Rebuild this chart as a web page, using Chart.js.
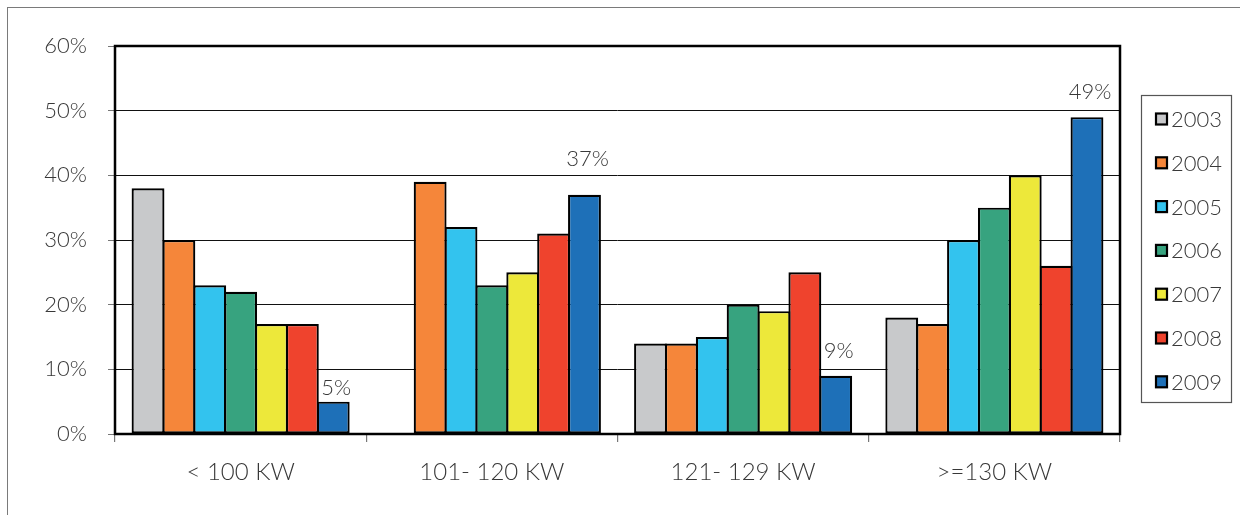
<!DOCTYPE html>
<html>
<head>
<meta charset="utf-8">
<script src="https://cdn.jsdelivr.net/npm/chart.js@4/dist/chart.umd.min.js"></script>
<style>
  html, body { margin: 0; padding: 0; background: #fff; overflow: hidden; }
  #wrap { position: relative; width: 1240px; height: 515px; }
  #frame { position: absolute; left: 7px; top: 7px; width: 1300px; height: 600px;
           border-left: 1.5px solid #7a7a7a; border-top: 1.5px solid #7a7a7a; }
  canvas { position: absolute; left: 0; top: 0; }
</style>
</head>
<body>
<div id="wrap">
  <div id="frame"></div>
  <canvas id="c" width="1240" height="515"></canvas>
</div>
<script>
// Power classes and yearly shares (%)
const categories = ['< 100 KW', '101- 120 KW', '121- 129 KW', '>=130 KW'];
const years = ['2003', '2004', '2005', '2006', '2007', '2008', '2009'];
const share2003 = [38, null, 14, 18];
const share2004 = [30, 39, 14, 17];
const share2005 = [23, 32, 15, 30];
const share2006 = [22, 23, 20, 35];
const share2007 = [17, 25, 19, 40];
const share2008 = [17, 31, 25, 26];
const share2009 = [5, 37, 9, 49];
const yTicks = [0, 10, 20, 30, 40, 50, 60];

const seriesValues = [share2003, share2004, share2005, share2006, share2007, share2008, share2009];
const seriesColors = ['#c8c9cb', '#f5863a', '#33c3ee', '#37a37f', '#ede83a', '#ef432d', '#1e70b8'];
const labelledSeries = 6; // only the latest year carries value labels

const FONT = '"Lato", "Noto Sans", sans-serif';
const TEXT = '#383838';

// Frame around the plotting area
const plotFrame = {
  id: 'plotFrame',
  afterDatasetsDraw(chart) {
    const { ctx, chartArea: a } = chart;
    ctx.save();
    ctx.strokeStyle = '#000';
    ctx.lineWidth = 2.5;
    ctx.strokeRect(a.left, a.top, a.right - a.left, a.bottom - a.top);
    ctx.restore();
  }
};

// Value labels above the 2009 bars, nudged so they never sit on a gridline
const valueLabels = {
  id: 'valueLabels',
  afterDatasetsDraw(chart) {
    const { ctx } = chart;
    const yScale = chart.scales.y;
    const lines = yTicks.map(v => yScale.getPixelForValue(v));
    const meta = chart.getDatasetMeta(labelledSeries);
    const vals = chart.data.datasets[labelledSeries].data;
    ctx.save();
    ctx.font = '300 22px ' + FONT;
    ctx.fillStyle = TEXT;
    ctx.textAlign = 'center';
    ctx.textBaseline = 'middle';
    meta.data.forEach((bar, i) => {
      if (vals[i] == null) return;
      let cy = bar.y - 25;
      const hit = lines.find(g => Math.abs(g - cy) < 10);
      if (hit !== undefined) {
        const gap = bar.y - hit;
        cy = gap >= 28 ? (bar.y + hit) / 2 + 2 : hit - 16;
      }
      ctx.fillText(vals[i] + '%', bar.x + 3, cy);
    });
    ctx.restore();
  }
};

// Boxed legend to the right of the plot
const boxLegend = {
  id: 'boxLegend',
  afterDraw(chart) {
    const { ctx } = chart;
    const left = 1141.5, top = 95.5, w = 90, h = 307;
    const firstY = 119, step = 43.8;
    ctx.save();
    ctx.strokeStyle = '#555';
    ctx.lineWidth = 1.2;
    ctx.strokeRect(left, top, w, h);
    ctx.font = '300 22px ' + FONT;
    ctx.textBaseline = 'middle';
    ctx.textAlign = 'left';
    chart.data.datasets.forEach((ds, i) => {
      const y = firstY + i * step;
      ctx.fillStyle = ds.backgroundColor;
      ctx.fillRect(1156, y - 5.5, 11, 11);
      ctx.strokeStyle = '#000';
      ctx.lineWidth = 2.2;
      ctx.strokeRect(1156, y - 5.5, 11, 11);
      ctx.fillStyle = TEXT;
      ctx.fillText(ds.label, 1171, y + 1);
    });
    ctx.restore();
  }
};

new Chart(document.getElementById('c'), {
  type: 'bar',
  data: {
    labels: categories,
    datasets: years.map((y, i) => ({
      label: y,
      data: seriesValues[i],
      backgroundColor: seriesColors[i],
      borderColor: '#000',
      borderWidth: 2.2,
      borderSkipped: false,
      categoryPercentage: 0.86,
      barPercentage: 1.065
    }))
  },
  options: {
    responsive: false,
    animation: false,
    layout: { padding: { top: 46, right: 120, left: 0, bottom: 0 } },
    plugins: {
      legend: { display: false },
      tooltip: { enabled: false }
    },
    scales: {
      x: {
        afterFit(scale) { scale.height = 81; },
        grid: {
          offset: true,
          drawOnChartArea: false,
          drawTicks: true,
          tickLength: 8,
          tickColor: '#777',
          lineWidth: 1.2
        },
        border: { display: false },
        ticks: {
          font: { family: FONT, size: 24, weight: 300 },
          color: TEXT,
          padding: 16,
          maxRotation: 0
        }
      },
      y: {
        min: 0,
        max: 60,
        afterFit(scale) { scale.width = 115; },
        afterBuildTicks(scale) { scale.ticks = yTicks.map(v => ({ value: v })); },
        grid: {
          color: '#111',
          lineWidth: 1,
          drawTicks: true,
          tickLength: 7,
          tickColor: '#777'
        },
        border: { display: false },
        ticks: {
          font: { family: FONT, size: 22, weight: 300 },
          color: TEXT,
          padding: 21,
          callback: v => v + '%'
        }
      }
    }
  },
  plugins: [plotFrame, valueLabels, boxLegend]
});
</script>
</body>
</html>
